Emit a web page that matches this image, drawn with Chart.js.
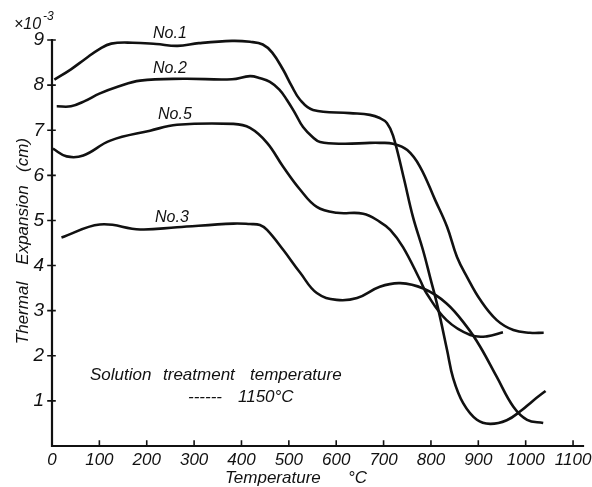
<!DOCTYPE html>
<html>
<head>
<meta charset="utf-8">
<script src="https://cdn.jsdelivr.net/npm/chart.js@4.4.0/dist/chart.umd.min.js"></script>
<style>
	html,body{margin:0;padding:0;background:#fff}
	canvas{display:block}
</style>
</head>
<body>
<canvas id="chart" width="592" height="487"></canvas>
<script>
// tick labels
const xTicks = [0,100,200,300,400,500,600,700,800,900,1000,1100];
const yTicks = [1,2,3,4,5,6,7,8,9];

// curves (temperature in °C, expansion x10^-3 cm)
const no1Temp = [5,40,70,100,125,170,220,265,310,380,418,445,465,488,505,524,551,629,671,692,707,720,742,762,783,798,815,834,847,868,897,925,960,990,1015,1042];
const no1Val  = [8.12,8.35,8.58,8.8,8.92,8.94,8.91,8.87,8.93,8.98,8.96,8.9,8.72,8.34,8.0,7.67,7.45,7.38,7.34,7.27,7.16,6.88,5.97,5.08,4.35,3.75,3.05,2.13,1.5,0.95,0.58,0.49,0.57,0.78,1.0,1.22];

const no2Temp = [10,40,70,100,140,186,277,380,418,440,460,480,496,513,530,550,566,614,671,692,720,750,777,809,834,855,876,904,939,974,1009,1038];
const no2Val  = [7.53,7.53,7.65,7.81,7.97,8.1,8.14,8.13,8.2,8.15,8.07,7.9,7.67,7.38,7.07,6.85,6.74,6.7,6.72,6.72,6.7,6.56,6.19,5.45,4.86,4.19,3.75,3.24,2.79,2.57,2.51,2.51];

const no5Temp = [2,31,66,123,207,264,383,418,454,488,524,559,601,657,692,714,741,777,791,833,883,918,952];
const no5Val  = [6.59,6.42,6.44,6.77,6.99,7.12,7.14,7.05,6.72,6.19,5.68,5.3,5.17,5.15,4.97,4.79,4.41,3.68,3.38,2.79,2.46,2.43,2.52];

const no3Temp = [20,101,186,264,383,418,439,454,488,524,559,601,644,692,735,784,833,876,904,939,974,1003,1037];
const no3Val  = [4.62,4.91,4.8,4.85,4.93,4.92,4.9,4.79,4.35,3.84,3.39,3.24,3.28,3.53,3.61,3.49,3.16,2.64,2.2,1.53,0.87,0.58,0.51];

const INK = '#111';
const ITAL = "'Liberation Sans','DejaVu Sans',sans-serif";

function series(temp, val){
	return {
		data: temp.map((t,i)=>({x:t, y:val[i]})),
		borderColor: INK,
		borderWidth: 2.6,
		pointRadius: 0,
		fill: false,
		tension: 0.4,
		clip: false
	};
}

// axes, inward tick marks and the hand-lettered texts
const decor = {
	id: 'decor',
	afterDraw(chart){
		const {ctx, scales:{x, y}} = chart;
		const x0 = x.getPixelForValue(0), y0 = y.getPixelForValue(0);
		ctx.save();
		ctx.strokeStyle = INK;
		ctx.lineCap = 'square';
		ctx.lineWidth = 2.2;
		ctx.beginPath();
		ctx.moveTo(x0, y.getPixelForValue(9));
		ctx.lineTo(x0, y0);
		ctx.lineTo(x.right, y0);
		ctx.stroke();

		ctx.lineWidth = 1.6;
		ctx.beginPath();
		xTicks.forEach(v=>{
			if(v === 0) return;
			const px = x.getPixelForValue(v);
			ctx.moveTo(px, y0);
			ctx.lineTo(px, y0 - 5);
		});
		yTicks.forEach(v=>{
			const py = y.getPixelForValue(v);
			ctx.moveTo(x0 - 4, py);
			ctx.lineTo(x0 + 3, py);
		});
		ctx.stroke();

		ctx.fillStyle = INK;
		ctx.textBaseline = 'middle';
		ctx.textAlign = 'left';

		// exponent
		ctx.font = 'italic 16px ' + ITAL;
		ctx.fillText('×10', 14, 25);
		ctx.font = 'italic 12px ' + ITAL;
		ctx.fillText('-3', 43, 17);

		// series names
		ctx.font = 'italic 16px ' + ITAL;
		ctx.fillText('No.1', 153, 34);
		ctx.fillText('No.2', 153, 69);
		ctx.fillText('No.5', 158, 115);
		ctx.fillText('No.3', 155, 218);

		// note
		ctx.font = 'italic 17px ' + ITAL;
		ctx.fillText('Solution', 90, 375);
		ctx.fillText('treatment', 163, 375);
		ctx.fillText('temperature', 250, 375);
		ctx.fillText('------', 188, 397, 46);
		ctx.fillText('1150°C', 238, 397);

		// x title
		ctx.fillText('Temperature', 225, 478);
		ctx.fillText('°C', 348, 478);

		// y title
		ctx.translate(23, 0);
		ctx.rotate(-Math.PI/2);
		ctx.textAlign = 'center';
		ctx.fillText('Thermal', -313, 0);
		ctx.fillText('Expansion', -225, 0);
		ctx.fillText('(cm)', -155, 0);
		ctx.restore();
	}
};

new Chart(document.getElementById('chart').getContext('2d'), {
	type: 'line',
	data: {
		datasets: [
			series(no1Temp, no1Val),
			series(no2Temp, no2Val),
			series(no5Temp, no5Val),
			series(no3Temp, no3Val)
		]
	},
	options: {
		responsive: false,
		animation: false,
		layout: { padding: { top: 40, right: 9, left: 0, bottom: 0 } },
		plugins: { legend: { display: false }, tooltip: { enabled: false } },
		scales: {
			x: {
				type: 'linear',
				min: 0,
				max: 1121,
				grid: { display: false, drawTicks: false },
				border: { display: false },
				afterBuildTicks: s => { s.ticks = xTicks.map(v=>({value:v})); },
				afterFit: s => { s.height = 41; s.paddingLeft = 0; s.paddingRight = 0; },
				ticks: {
					color: INK,
					padding: 4,
					maxRotation: 0,
					autoSkip: false,
					callback: v => String(v),
					font: { family: ITAL, size: 17, style: 'italic' }
				}
			},
			y: {
				type: 'linear',
				min: 0,
				max: 9,
				grid: { display: false, drawTicks: false },
				border: { display: false },
				afterBuildTicks: s => { s.ticks = yTicks.map(v=>({value:v})); },
				afterFit: s => { s.width = 52; },
				ticks: {
					color: INK,
					padding: 8,
					font: { family: ITAL, size: 19, style: 'italic' }
				}
			}
		}
	},
	plugins: [decor]
});
</script>
</body>
</html>
